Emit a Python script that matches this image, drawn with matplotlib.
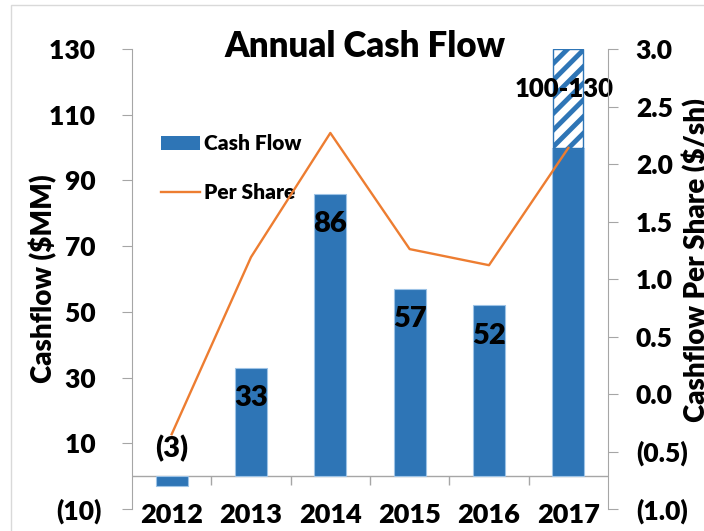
import numpy as np
import matplotlib
matplotlib.use("Agg")
import matplotlib.pyplot as plt
from matplotlib.patches import Rectangle, Patch
from matplotlib.lines import Line2D

plt.rcParams['font.family'] = ['Lato', 'DejaVu Sans']
plt.rcParams['font.weight'] = 'heavy'
plt.rcParams['hatch.linewidth'] = 3.5

# Data
years = ['2012', '2013', '2014', '2015', '2016', '2017']
cash_flow = [-3, 33, 86, 57, 52, 100]
cash_flow_high = 130            # 2017 upper end of range
per_share = [-0.35, 1.19, 2.27, 1.26, 1.12, 2.14]
bar_labels = ['(3)', '33', '86', '57', '52', '100-130']

left_ticks = [-10, 10, 30, 50, 70, 90, 110, 130]
left_tick_labels = ['(10)', '10 ', '30 ', '50 ', '70 ', '90 ', '110 ', '130 ']
right_ticks = [-1.0, -0.5, 0.0, 0.5, 1.0, 1.5, 2.0, 2.5, 3.0]
right_tick_labels = ['(1.0)', '(0.5)', '0.0', '0.5', '1.0', '1.5', '2.0', '2.5', '3.0']

blue = '#2E75B6'
orange = '#ED7D31'
gray = '#A6A6A6'
fw = 'heavy'

fig = plt.figure(figsize=(7.04, 5.31), dpi=100)
ax = fig.add_axes([132/704, 22/531, 476/704, 460/531])
ax2 = ax.twinx()

x = np.arange(len(years))
width = 0.4

# bars
ax.bar(x, cash_flow, width, color=blue, edgecolor='#9DC3E6', linewidth=0.8, zorder=2)
ax.bar(x[-1], cash_flow_high - cash_flow[-1], width * 0.95, bottom=cash_flow[-1],
       color='white', edgecolor=blue, hatch='//', linewidth=1.0, zorder=2)

# bar labels
for i, (v, lab) in enumerate(zip(cash_flow, bar_labels)):
    if i == len(years) - 1:
        ax.annotate(lab, (x[i], cash_flow_high), xytext=(-3, -29), textcoords='offset points',
                    ha='center', va='center', fontsize=18.5, fontweight=fw, zorder=5)
    elif v < 0:
        ax.annotate(lab, (x[i], 0), xytext=(0, 20), textcoords='offset points',
                    ha='center', va='center', fontsize=21, fontweight=fw, zorder=5)
    else:
        ax.annotate(lab, (x[i], v), xytext=(0, -22), textcoords='offset points',
                    ha='center', va='center', fontsize=21, fontweight=fw, zorder=5)

# per-share line
ax2.plot(x, per_share, color=orange, linewidth=1.7, zorder=3)

# axes formatting
ax.set_xlim(-0.5, len(years) - 0.5)
ax.set_ylim(-10, 130)
ax2.set_ylim(-1.0, 3.0)

ax.axhline(0, color=gray, linewidth=1, zorder=1)
ax.vlines(x[:-1] + 0.5, -2.8, 0, color=gray, linewidth=1, zorder=1)

for a in (ax, ax2):
    a.spines['top'].set_visible(False)
    a.spines['bottom'].set_visible(False)
    a.spines['left'].set_color(gray)
    a.spines['right'].set_color(gray)
ax.spines['right'].set_visible(False)
ax2.spines['left'].set_visible(False)

ax.set_xticks(x)
ax.set_xticklabels(years, fontsize=19.5, fontweight=fw)
ax.tick_params(axis='x', length=0, pad=-4)

ax.set_yticks(left_ticks)
ax.set_yticklabels(left_tick_labels, fontsize=19, fontweight=fw)
ax.tick_params(axis='y', length=7, color=gray, pad=15)

ax2.set_yticks(right_ticks)
ax2.set_yticklabels(right_tick_labels, fontsize=19, fontweight=fw)
ax2.tick_params(axis='y', length=7, color=gray, pad=13)

ax.set_ylabel('Cashflow ($MM)', fontsize=20, fontweight=fw)
ax.yaxis.set_label_coords(-0.158, 0.5)
ax2.set_ylabel('Cashflow Per Share ($/sh)', fontsize=20, fontweight=fw)
ax2.yaxis.set_label_coords(1.155, 0.541)

# legend
handles = [Patch(facecolor=blue, edgecolor='none'),
           Line2D([0], [0], color=orange, linewidth=1.7)]
ax.legend(handles, ['Cash Flow', 'Per Share'], loc='upper left',
          bbox_to_anchor=(0.061, 0.815), frameon=False,
          prop={'size': 15, 'weight': fw},
          handlelength=1.85, handletextpad=0.22, labelspacing=1.45,
          borderpad=0, borderaxespad=0)

fig.text(365/704, 1 - 57/531, 'Annual Cash Flow', ha='center', va='baseline',
         fontsize=25, fontweight=fw)

# outer chart border
fig.patches.append(Rectangle((11/704, -0.1), 1.1, 1.1 - 5/531, transform=fig.transFigure,
                             fill=False, edgecolor='#D9D9D9', linewidth=1))

fig.savefig('out.png', dpi=100)
